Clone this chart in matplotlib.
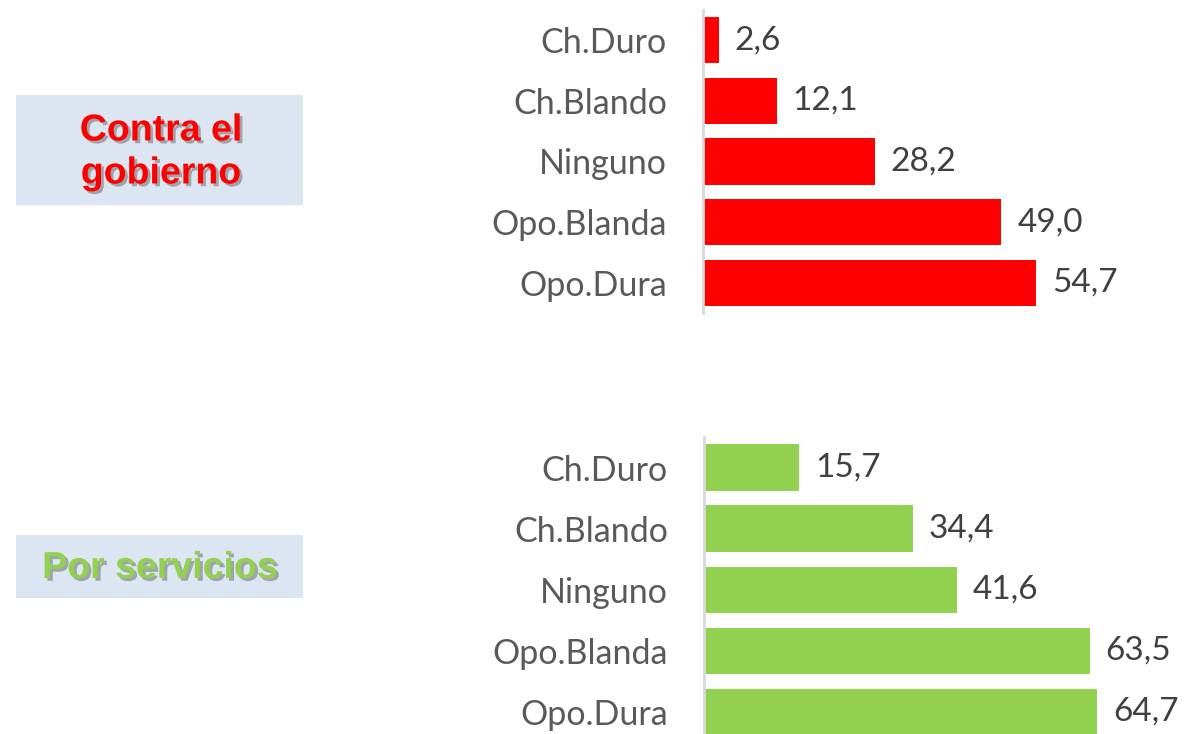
import matplotlib.pyplot as plt
import matplotlib.patheffects as pe
from matplotlib.patches import Rectangle

categories = ['Ch.Duro', 'Ch.Blando', 'Ninguno', 'Opo.Blanda', 'Opo.Dura']
contra_gobierno = [2.6, 12.1, 28.2, 49.0, 54.7]
por_servicios = [15.7, 34.4, 41.6, 63.5, 64.7]

W, H = 1184, 734
fig = plt.figure(figsize=(W / 100, H / 100), dpi=100)


def px_axes(x0, y0, x1, y1):
    # pixel box (top-left origin) -> figure fraction
    return fig.add_axes([x0 / W, 1 - y1 / H, (x1 - x0) / W, (y1 - y0) / H])


def draw_panel(ax, vals, color, ylim):
    pos = list(range(len(categories)))
    ax.barh(pos, vals, height=0.76, color=color)
    ax.set_xlim(0, 79)
    ax.set_ylim(*ylim)
    ax.set_yticks(pos)
    ax.set_yticklabels(categories, fontsize=24.5, color='#595959', family='Lato')
    ax.tick_params(axis='y', length=0, pad=26)
    ax.set_xticks([])
    for s in ['top', 'right', 'bottom']:
        ax.spines[s].set_visible(False)
    ax.spines['left'].set_color('#d9d9d9')
    ax.spines['left'].set_linewidth(2)
    ax.patch.set_alpha(0)
    for p, v in zip(pos, vals):
        ax.text(v + 2.6, p, f'{v:.1f}'.replace('.', ','), va='center', ha='left',
                fontsize=24, color='#404040', family='Lato')


ax1 = px_axes(703, 10, 1184, 313)
draw_panel(ax1, contra_gobierno, '#ff0000', (4.5, -0.5))

ax2 = px_axes(704, 437, 1184, 734)
draw_panel(ax2, por_servicios, '#92d050', (4.5 - 8.5 / 61, -0.5))

# left boxes
bg = fig.add_axes([0, 0, 1, 1])
bg.set_xlim(0, W)
bg.set_ylim(H, 0)
bg.axis('off')
bg.patch.set_alpha(0)
bg.set_zorder(-1)
bg.add_patch(Rectangle((16, 95), 287, 110, color='#dce6f2', lw=0))
bg.add_patch(Rectangle((16, 535), 287, 63, color='#dce6f2', lw=0))

shadow = [pe.SimplePatchShadow(offset=(2, -2), shadow_rgbFace='#555555', alpha=0.45), pe.Normal()]
bg.text(161, 152, 'Contra el\ngobierno', ha='center', va='center', fontsize=27,
        fontweight='bold', color='#ff0000', family='Liberation Sans',
        linespacing=1.25, path_effects=shadow)
bg.text(160, 568, 'Por servicios', ha='center', va='center', fontsize=27,
        fontweight='bold', color='#92d050', family='Liberation Sans',
        path_effects=shadow)

fig.savefig('out.png', dpi=100)
